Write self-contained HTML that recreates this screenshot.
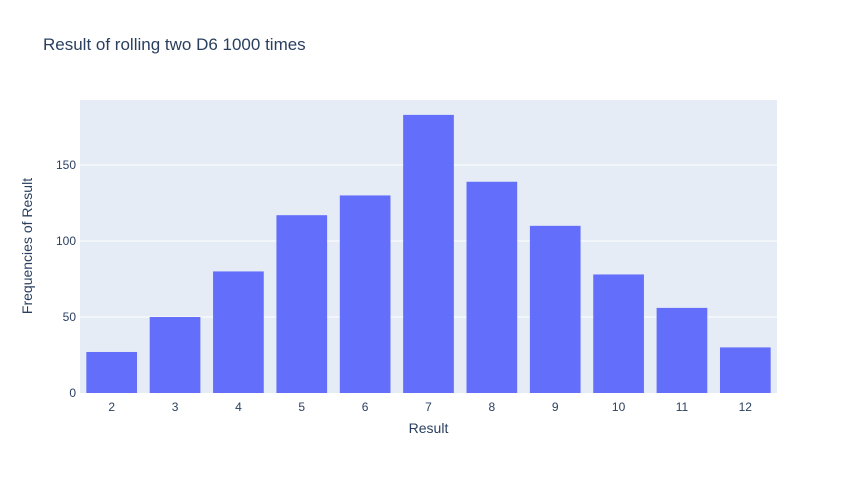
<!DOCTYPE html>
<html><head><meta charset="utf-8"><style>
body{margin:0;background:#fff;font-family:"Liberation Sans",sans-serif;}
</style></head><body>
<svg id="chart" width="857" height="473" xmlns="http://www.w3.org/2000/svg">
<rect width="857" height="473" fill="#fff"/>
<text x="43" y="50" font-size="17" fill="#2a3f5f">Result of rolling two D6 1000 times</text>
<rect x="80" y="100" width="697" height="293" fill="#e5ecf6"/>
<g id="grid"></g>
<g id="bars"></g>
<g id="xticks"></g>
<g id="yticks"></g>
<text x="428.5" y="433" font-size="14" fill="#2a3f5f" text-anchor="middle">Result</text>
<text transform="translate(32,246) rotate(-90)" font-size="14" fill="#2a3f5f" text-anchor="middle">Frequencies of Result</text>
</svg>
<script>
const categories = ["2","3","4","5","6","7","8","9","10","11","12"];
const values = [27,50,80,117,130,183,139,110,78,56,30];
const yTicks = [0,50,100,150];
const ns="http://www.w3.org/2000/svg";
const X0=80,W=697,Y0=393,H=293,YMAX=192.8;
const band=W/categories.length;
const y=v=>Y0-v/YMAX*H;
const xc=i=>X0+band*(i+0.5);
function mk(t,a,p){const e=document.createElementNS(ns,t);for(const k in a)e.setAttribute(k,a[k]);p.appendChild(e);return e;}
const grid=document.getElementById('grid'),bars=document.getElementById('bars'),xt=document.getElementById('xticks'),yt=document.getElementById('yticks');
yTicks.forEach(v=>{
 if(v>0){const l=mk('line',{x1:X0,x2:X0+W,y1:y(v),y2:y(v),stroke:'#fff','stroke-width':1},grid);
 
 }
 const t=mk('text',{x:X0-4,y:y(v)+4,'font-size':12,fill:'#2a3f5f','text-anchor':'end'},yt);t.textContent=v;
 
 
});
const bw=band*0.8;
categories.forEach((c,i)=>{
 const r=mk('rect',{x:xc(i)-bw/2,y:y(values[i]),width:bw,height:Y0-y(values[i]),fill:'#636efa'},bars);
 
 
 const t=mk('text',{x:xc(i),y:Y0+18,'font-size':12,fill:'#2a3f5f','text-anchor':'middle'},xt);t.textContent=c;
 
 
});
</script>
</body></html>
